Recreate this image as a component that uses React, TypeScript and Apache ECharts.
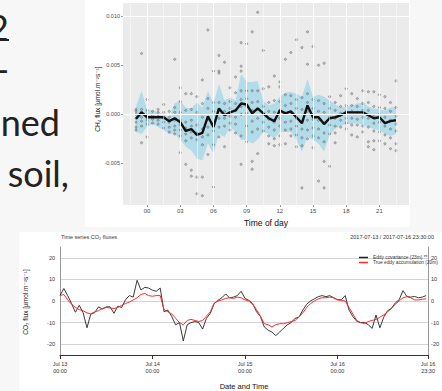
import React, { useEffect, useRef } from "react";
import * as echarts from "echarts";

// ---------- CH4 diurnal chart (top) ----------
const ch4Hours = [-1, -0.5, 0, 0.5, 1, 1.5, 2, 2.5, 3, 3.5, 4, 4.5, 5, 5.5, 6, 6.5, 7, 7.5, 8, 8.5, 9, 9.5, 10, 10.5, 11, 11.5, 12, 12.5, 13, 13.5, 14, 14.5, 15, 15.5, 16, 16.5, 17, 17.5, 18, 18.5, 19, 19.5, 20, 20.5, 21, 21.5, 22, 22.5];
const ch4Mean = [-0.00045, 0.0002, -0.0003, -0.0003, -0.0003, -0.0003, -0.0007, -0.0004, -0.0008, -0.0017, -0.0015, -0.0021, -0.0019, -0.0002, -0.0013, 0.0006, -0.0001, 0.0002, 0.0004, 0.0011, 0.001, 0.0001, 0.0006, 0.0001, -0.0004, -0.0007, 0.0004, 0.0001, 0.0003, -0.0003, -0.0009, 0.0009, -0.0003, -0.0003, -0.001, -0.0004, -0.0003, -0.0001, 0.0002, 0.0002, 0.0002, 0.0002, -0.0001, -0.0004, -0.0003, -0.0009, -0.0007, -0.0006];
const ch4Upper = [0.0008, 0.0024, 0.0005, 0.0004, 0.0002, 0, -0.0003, 0.0011, 0.0014, 0.0007, 0.0006, 0.0012, 0.0007, 0.0024, 0.0011, 0.0031, 0.0014, 0.0017, 0.0014, 0.0041, 0.0033, 0.0033, 0.0034, 0.0014, 0.0009, 0.0011, 0.0018, 0.0022, 0.0023, 0.0021, 0.0018, 0.0036, 0.0018, 0.002, 0.0018, 0.0014, 0.001, 0.0007, 0.0008, 0.0009, 0.0011, 0.0012, 0.0008, 0.0006, 0.0005, 0.0004, 0.0007, 0.0008];
const ch4Lower = [-0.0018, -0.002, -0.0013, -0.001, -0.0013, -0.0016, -0.002, -0.002, -0.0026, -0.0033, -0.0037, -0.0045, -0.0047, -0.003, -0.004, -0.002, -0.0023, -0.0013, -0.0018, -0.0026, -0.0026, -0.003, -0.0026, -0.0018, -0.002, -0.0025, -0.0018, -0.0018, -0.0018, -0.0026, -0.0038, -0.0023, -0.0026, -0.003, -0.0038, -0.0021, -0.0015, -0.0012, -0.001, -0.001, -0.0009, -0.0011, -0.0013, -0.0015, -0.0016, -0.002, -0.0022, -0.002];
const ch4Points: number[][] = [
  [0.0005, 0.0003, 0, -0.0004, -0.0008, -0.0013, -0.0016],
  [0.0062, 0.0005, 0.0002, -0.0003, -0.0007, -0.0012, -0.0029],
  [0.0015, 0.0004, 0, -0.0003, -0.0006, -0.001, -0.0023],
  [0.0003, -0.0001, -0.0005, -0.0009],
  [0.0005, 0.0002, -0.0002, -0.0006, -0.001],
  [0.001, 0.0002, -0.0004, -0.0008, -0.0014],
  [0.0003, -0.0003, -0.0008, -0.0013, -0.0018],
  [0.0056, 0.0007, 0.0002, -0.0006, -0.0012, -0.0016, -0.002],
  [0.0027, 0.0013, 0.0002, -0.0006, -0.0011, -0.0016, -0.0022, -0.0039],
  [0.0021, 0.0004, -0.0008, -0.0014, -0.002, -0.0027, -0.0051],
  [0.0021, 0.0005, -0.0006, -0.0012, -0.0018, -0.0024, -0.0057, -0.0063],
  [0.0018, 0.0002, -0.0011, -0.0019, -0.0026, -0.0064, -0.0081],
  [0.0035, 0.0011, -0.0003, -0.0015, -0.0023, -0.0031, -0.0064, -0.0083],
  [0.0086, 0.0016, 0.0006, -0.0005, -0.0013, -0.0021, -0.0041],
  [0.0044, 0.0012, 0.0003, -0.0009, -0.0017, -0.0031, -0.0074],
  [0.006, 0.0044, 0.0042, 0.0012, 0.0004, -0.0004, -0.0013, -0.0023],
  [0.0053, 0.0011, 0.0003, -0.0004, -0.0012, -0.0033],
  [0.0027, 0.0013, 0.0006, -0.0002, -0.0009, -0.0016],
  [0.0038, 0.0022, 0.0011, 0.0004, -0.0003, -0.001, -0.0019],
  [0.0073, 0.0049, 0.0044, 0.0024, 0.0015, 0.0008, 0, -0.0022, -0.0051],
  [0.0072, 0.0024, 0.0016, 0.0008, 0.0001, -0.0012, -0.0028],
  [0.0084, 0.0024, 0.0012, 0.0004, -0.0007, -0.0018, -0.0048, -0.0056],
  [0.0104, 0.0024, 0.0013, 0.0005, -0.0004, -0.0015, -0.004],
  [0.0065, 0.0026, 0.0008, 0, -0.0008, -0.0017],
  [0.0028, 0.0012, 0.0003, -0.0005, -0.0013, -0.0022, -0.003],
  [0.0039, 0.0014, 0.0002, -0.0008, -0.0016, -0.0025, -0.0032],
  [0.0033, 0.0028, 0.0013, 0.0004, -0.0004, -0.0012, -0.0022, -0.0031],
  [0.0056, 0.002, 0.0009, 0.0001, -0.0008, -0.0016, -0.003],
  [0.0063, 0.0019, 0.0011, 0.0002, -0.0007, -0.0015, -0.0022],
  [0.0076, 0.0015, 0.0006, -0.0004, -0.0012, -0.0021, -0.0033],
  [0.0068, 0.0017, 0.0005, -0.0008, -0.0015, -0.0024, -0.0032, -0.0075],
  [0.0084, 0.0051, 0.0021, 0.0012, 0.0003, -0.0006, -0.0016, -0.0025],
  [0.0069, 0.0015, 0.0006, -0.0005, -0.0014, -0.0022, -0.0034],
  [0.005, 0.0014, 0.0003, -0.0006, -0.0015, -0.0024, -0.0068],
  [0.0052, 0.0011, 0.0002, -0.0009, -0.0019, -0.0028, -0.0048, -0.0075],
  [0.0018, 0.0006, -0.0003, -0.0011, -0.002, -0.0053],
  [0.0012, 0.0004, -0.0004, -0.0012, -0.0019, -0.0029],
  [0.0019, 0.0008, 0.0001, -0.0006, -0.0013],
  [0.0026, 0.0009, 0.0003, -0.0004, -0.0009, -0.0015],
  [0.0021, 0.0009, 0.0003, -0.0004, -0.0011, -0.0021],
  [0.0016, 0.0008, 0.0002, -0.0005, -0.0011, -0.0023],
  [0.0024, 0.0011, 0.0004, -0.0003, -0.0012, -0.0018],
  [0.0023, 0.0012, 0.0004, -0.0004, -0.0013, -0.0028, -0.0033],
  [0.0023, 0.0008, -0.0001, -0.0009, -0.0017, -0.0027, -0.0036],
  [0.002, 0.0007, 0, -0.0008, -0.0018, -0.0027],
  [0.0018, 0.0006, -0.0003, -0.0012, -0.0021, -0.003],
  [0.0012, 0.0003, -0.0006, -0.0015, -0.0024, -0.0035],
  [0.0034, 0.0007, -0.0002, -0.001, -0.0017, -0.003, -0.0037],
];
const ch4XTicks = [0, 3, 6, 9, 12, 15, 18, 21];
const ch4XTickLabels = ["00", "03", "06", "09", "12", "15", "18", "21"];
const ch4XMinor = [-1.5, 1.5, 4.5, 7.5, 10.5, 13.5, 16.5, 19.5, 22.5];
const ch4YTicks = [-0.005, 0, 0.005, 0.01];
const ch4YTickLabels = ["-0.005", "0.000", "0.005", "0.010"];
const ch4YMinor = [-0.0075, -0.0025, 0.0025, 0.0075];

// ---------- CO2 time series (bottom) ----------
const co2Hours = [0, 1, 2, 3, 4, 5, 6, 7, 8, 9, 10, 11, 12, 13, 14, 15, 16, 17, 18, 19, 20, 21, 22, 23, 24, 25, 26, 27, 28, 29, 30, 31, 32, 33, 34, 35, 36, 37, 38, 39, 40, 41, 42, 43, 44, 45, 46, 47, 48, 49, 50, 51, 52, 53, 54, 55, 56, 57, 58, 59, 60, 61, 62, 63, 64, 65, 66, 67, 68, 69, 70, 71, 72, 73, 74, 75, 76, 77, 78, 79, 80, 81, 82, 83, 84, 85, 86, 87, 88, 89, 90, 91, 92, 93, 94, 95];
const co2Eddy = [2.5, 5.8, 2.5, -1.2, -5.2, -2, -5.4, -12.4, -6, -5.4, -2.7, -3.7, -2.7, -2.7, -5.7, -2.4, -3, 0.6, 2.5, 1.8, 9.6, 5.1, 6.3, 6, 5, 4.5, 6, -5, -4.2, -7.2, -11, -10, -18.5, -11, -10, -9.5, -10, -13, -8, -5.7, -1.2, 0.3, 1.5, 3.3, 1.4, 1.8, 2.5, 4.5, 1.2, 0.3, -1.2, -5, -7.2, -12, -13.5, -14.4, -16, -14.4, -12.6, -11, -10, -8, -7.5, -4.2, -1.5, 0, 1, 2, 2.5, 2, 2.5, 1.5, 0.6, 0.6, 2.5, -4.2, -7.2, -9.4, -10, -9.9, -11, -12.7, -6.5, -12.4, -7.5, -4.5, -3.4, -0.9, 0.6, 4.8, 2.1, 1.8, 2.1, 1.5, 1.8, 2.5];
const co2Tea = [2.5, 3, 0.5, -1.5, -3, -4, -4.5, -5.5, -6, -5, -4.5, -3.5, -3, -3.2, -3.5, -3, -2, -1.2, -0.5, 0.5, 1.5, 3, 3.5, 2.5, 2.2, 2.5, 2.5, -4, -5, -6, -8, -10, -11, -9, -8.5, -9, -9.5, -9, -7, -5, -1, 0, 0.5, 1.2, 1.5, 1.2, 1.8, 1.5, 0.5, 0, -1.5, -4, -7, -10.5, -11, -12, -11, -10.5, -10.5, -10, -9.5, -9, -7.5, -5.5, -3, -1.2, 0, 1, 1.5, 1.5, 1.8, 1.5, 0.5, 0.3, 0, -3, -6, -9, -10, -10.5, -9.5, -9, -8.5, -7.5, -6.5, -5, -3.5, -1.5, 0, 1.5, 2, 1.5, 0.5, 0.5, 0.8, 1];
const co2TickHours = [0, 24, 48, 72, 95.5];
const co2TickLabels = ["Jul 13\n00:00", "Jul 14\n00:00", "Jul 15\n00:00", "Jul 16\n00:00", "Jul 16\n23:30"];
const co2SeriesNames = ["Eddy covariance (23m) **", "True eddy accumulation (20m)"];

const pickLabel = (ticks: number[], labels: string[], v: number) => {
  let best = -1;
  let bd = Infinity;
  ticks.forEach((t, i) => {
    const d = Math.abs(t - v);
    if (d < bd) { bd = d; best = i; }
  });
  const tol = Math.abs(ticks[1] - ticks[0]) * 0.01;
  return bd <= tol ? labels[best] : "";
};

const FONT = "'Liberation Sans', 'DejaVu Sans', Arial, sans-serif";
const SLIDE_FONT = "36px Lato, 'Open Sans', sans-serif";

export default function App() {
  const ref = useRef<HTMLDivElement>(null);
  useEffect(() => {
    if (!ref.current) return;
    const chart = echarts.init(ref.current, undefined, { renderer: "svg" });

    const gridLines: any[] = [
      ...ch4XTicks.map((v) => ({ xAxis: v, lineStyle: { color: "#ffffff", width: 1, type: "solid" } })),
      ...ch4XMinor.map((v) => ({ xAxis: v, lineStyle: { color: "#ffffff", width: 0.5, type: "solid" } })),
      ...ch4YTicks.map((v) => ({ yAxis: v, lineStyle: { color: "#ffffff", width: 1, type: "solid" } })),
      ...ch4YMinor.map((v) => ({ yAxis: v, lineStyle: { color: "#ffffff", width: 0.5, type: "solid" } })),
    ];

    const scatterData: number[][] = [];
    ch4Points.forEach((vals, i) => vals.forEach((v) => scatterData.push([ch4Hours[i], v])));

    const option: any = {
      animation: false,
      backgroundColor: "#f7f7f7",
      textStyle: { fontFamily: FONT },
      graphic: [
        { type: "rect", z: -100, shape: { x: 85, y: 0, width: 325, height: 227 }, style: { fill: "#ffffff" } },
        { type: "rect", z: -100, shape: { x: 19, y: 232, width: 423, height: 159 }, style: { fill: "#ffffff" } },
        // slide text on the left
        { type: "text", x: 9, y: 27, style: { text: "2", font: SLIDE_FONT, fill: "#222", align: "right", verticalAlign: "middle" } },
        { type: "rect", shape: { x: 0, y: 39, width: 9, height: 2 }, style: { fill: "#222" } },
        { type: "text", x: 9, y: 69, style: { text: "-", font: SLIDE_FONT, fill: "#222", align: "right", verticalAlign: "middle" } },
        { type: "text", x: 60, y: 122, style: { text: "ned", font: SLIDE_FONT, fill: "#222", align: "right", verticalAlign: "middle" } },
        { type: "text", x: 69, y: 173, style: { text: "soil,", font: SLIDE_FONT, fill: "#222", align: "right", verticalAlign: "middle" } },
        // axis titles
        { type: "text", x: 97, y: 99, rotation: Math.PI / 2, style: { text: "CH₄ flux [µmol.m⁻²s⁻¹]", fontSize: 6.5, fontFamily: FONT, fill: "#222", align: "center", verticalAlign: "middle" } },
        { type: "text", x: 25, y: 302, rotation: Math.PI / 2, style: { text: "CO₂ flux [µmol.m⁻²s⁻¹]", fontSize: 6.5, fontFamily: FONT, fill: "#222", align: "center", verticalAlign: "middle" } },
        { type: "text", x: 61, y: 237, style: { text: "Time series CO₂ fluxes", fontSize: 5.5, fontFamily: FONT, fill: "#333", align: "left", verticalAlign: "middle" } },
        { type: "text", x: 434, y: 237, style: { text: "2017-07-13 / 2017-07-16 23:30:00", fontSize: 5.5, fontFamily: FONT, fill: "#333", align: "right", verticalAlign: "middle" } },
      ],
      legend: {
        orient: "vertical",
        left: 354,
        top: 250,
        itemWidth: 9,
        itemHeight: 1.5,
        itemGap: 0,
        icon: "rect",
        data: co2SeriesNames,
        textStyle: { fontSize: 4.8, color: "#333", lineHeight: 5, fontFamily: FONT },
      },
      grid: [
        { left: 123, top: 3, width: 286, height: 202, show: true, backgroundColor: "#ebebeb", borderWidth: 0 },
        { left: 60, top: 247, width: 377, height: 111, show: false },
      ],
      xAxis: [
        {
          gridIndex: 0,
          type: "value",
          min: -2.175,
          max: 23.675,
          axisLine: { show: false, onZero: false },
          axisTick: { show: true, customValues: ch4XTicks, length: 2, lineStyle: { color: "#333", width: 0.5 } },
          axisLabel: { customValues: ch4XTicks, formatter: (v: number) => pickLabel(ch4XTicks, ch4XTickLabels, v), fontSize: 6, color: "#4d4d4d", margin: 3 },
          splitLine: { show: false },
          name: "Time of day",
          nameLocation: "middle",
          nameGap: 13,
          nameTextStyle: { fontSize: 8.5, color: "#111" },
        },
        {
          gridIndex: 1,
          type: "value",
          min: 0,
          max: 95.5,
          axisLine: { show: true, onZero: false, lineStyle: { color: "#333", width: 1 } },
          axisTick: { show: true, customValues: co2TickHours, length: 4, lineStyle: { color: "#333", width: 1 } },
          axisLabel: { customValues: co2TickHours, formatter: (v: number) => pickLabel(co2TickHours, co2TickLabels, v), fontSize: 5.5, lineHeight: 7, color: "#333", margin: 5, showMaxLabel: true },
          splitLine: { show: false },
          name: "Date and Time",
          nameLocation: "middle",
          nameGap: 27,
          nameTextStyle: { fontSize: 7.5, color: "#111" },
        },
      ],
      yAxis: [
        {
          gridIndex: 0,
          type: "value",
          min: -0.00924,
          max: 0.01134,
          axisLine: { show: false, onZero: false },
          axisTick: { show: true, customValues: ch4YTicks, length: 2, lineStyle: { color: "#333", width: 0.5 } },
          axisLabel: { customValues: ch4YTicks, formatter: (v: number) => pickLabel(ch4YTicks, ch4YTickLabels, v), fontSize: 5.5, color: "#4d4d4d", margin: 3 },
          splitLine: { show: false },
        },
        {
          gridIndex: 1,
          type: "value",
          min: -25,
          max: 25,
          interval: 5,
          axisLine: { show: true, onZero: false, lineStyle: { color: "#999", width: 1 } },
          axisTick: { show: false },
          axisLabel: { formatter: (v: number) => (Math.abs(v % 10) < 1e-9 && Math.abs(v) <= 20 ? String(v) : ""), fontSize: 5.5, color: "#333", margin: 5 },
          splitLine: { show: true, lineStyle: { color: ["rgba(0,0,0,0)", "#d3d3d3"], width: 1.2 } },
        },
        {
          gridIndex: 1,
          type: "value",
          position: "right",
          min: -25,
          max: 25,
          interval: 5,
          axisLine: { show: true, onZero: false, lineStyle: { color: "#999", width: 1 } },
          axisTick: { show: false },
          axisLabel: { formatter: (v: number) => (Math.abs(v % 10) < 1e-9 && Math.abs(v) <= 20 ? String(v) : ""), fontSize: 5.5, color: "#333", margin: 3 },
          splitLine: { show: false },
        },
      ],
      series: [
        {
          name: "ch4-grid",
          type: "line",
          xAxisIndex: 0,
          yAxisIndex: 0,
          data: ch4Hours.map((h, i) => [h, ch4Mean[i]]),
          symbol: "none",
          lineStyle: { width: 0, opacity: 0 },
          z: 1,
          markLine: { silent: true, symbol: ["none", "none"], label: { show: false }, data: gridLines, animation: false },
        },
        {
          name: "ch4-band",
          type: "custom",
          xAxisIndex: 0,
          yAxisIndex: 0,
          data: ch4Hours.map((h, i) => [h, ch4Lower[i], ch4Upper[i]]),
          encode: { x: 0, y: [1, 2] },
          silent: true,
          z: 2,
          renderItem: (params: any, api: any) => {
            if (params.dataIndex !== 0) return null;
            const top = ch4Hours.map((h, i) => api.coord([h, ch4Upper[i]]));
            const bottom = ch4Hours.map((h, i) => api.coord([h, ch4Lower[i]])).reverse();
            return { type: "polygon", shape: { points: top.concat(bottom) }, style: { fill: "#b3dcea" } };
          },
        },
        {
          name: "ch4-points",
          type: "scatter",
          xAxisIndex: 0,
          yAxisIndex: 0,
          data: scatterData,
          symbol: "circle",
          symbolSize: 2.3,
          itemStyle: { color: "rgba(120,120,120,0.5)", borderColor: "#555", borderWidth: 0.5 },
          z: 3,
        },
        {
          name: "ch4-mean",
          type: "line",
          xAxisIndex: 0,
          yAxisIndex: 0,
          data: ch4Hours.map((h, i) => [h, ch4Mean[i]]),
          symbol: "none",
          lineStyle: { color: "#111", width: 2.4 },
          z: 4,
        },
        {
          name: co2SeriesNames[0],
          type: "line",
          xAxisIndex: 1,
          yAxisIndex: 1,
          data: co2Hours.map((h, i) => [h, co2Eddy[i]]),
          symbol: "none",
          lineStyle: { color: "#222", width: 0.9 },
          itemStyle: { color: "#222" },
          z: 3,
        },
        {
          name: co2SeriesNames[1],
          type: "line",
          xAxisIndex: 1,
          yAxisIndex: 1,
          data: co2Hours.map((h, i) => [h, co2Tea[i]]),
          symbol: "none",
          lineStyle: { color: "#ff2b2b", width: 1 },
          itemStyle: { color: "#ff2b2b" },
          z: 4,
        },
      ],
    };
    chart.setOption(option);
    return () => chart.dispose();
  }, []);
  return <div ref={ref} style={{ position: "fixed", left: 0, top: 0, width: 442, height: 391 }} />;
}
